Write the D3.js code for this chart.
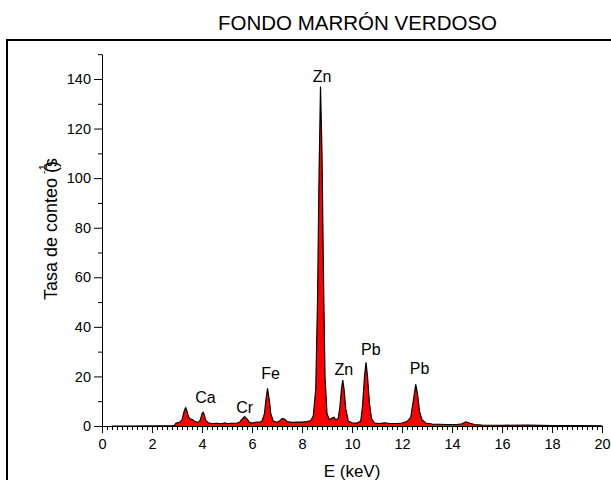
<!DOCTYPE html>
<html>
<head>
<meta charset="utf-8">
<script src="https://cdn.jsdelivr.net/npm/d3@7"></script>
<style>
  body { margin: 0; background: #fff; }
  text { font-family: 'Liberation Sans', Arial, sans-serif; fill: #000; }
</style>
</head>
<body>
<script>
// spectrum: energy (keV) and count rate (s^-1)
const energy = [0.4, 1.0, 2.0, 2.8, 2.9, 2.95, 3.0, 3.1, 3.2, 3.25, 3.3, 3.35, 3.4, 3.45, 3.5, 3.6, 3.7, 3.8, 3.9, 3.95,
  4.0, 4.05, 4.1, 4.15, 4.25, 4.4, 4.6, 4.8, 4.9, 5.0, 5.2, 5.4, 5.5, 5.6, 5.7, 5.8, 5.9, 6.0, 6.2, 6.3,
  6.4, 6.5, 6.55, 6.62, 6.7, 6.75, 6.85, 7.0, 7.1, 7.2, 7.3, 7.4, 7.6, 7.8, 8.0, 8.2, 8.35, 8.45, 8.55, 8.62,
  8.68, 8.74, 8.8, 8.86, 8.92, 9.0, 9.1, 9.2, 9.28, 9.35, 9.45, 9.52, 9.58, 9.63, 9.68, 9.75, 9.85, 10.0, 10.2, 10.35,
  10.42, 10.5, 10.56, 10.62, 10.7, 10.78, 10.9, 11.1, 11.3, 11.5, 11.8, 12.0, 12.2, 12.35, 12.45, 12.55, 12.62, 12.7, 12.8, 12.95,
  13.2, 13.5, 13.8, 14.2, 14.4, 14.55, 14.7, 14.9, 15.2, 16.0, 17.0, 18.0, 19.0, 20.0]
const counts = [0, 0, 0.05, 0.1, 0.3, 1.0, 1.3, 1.5, 2.5, 4.5, 6.5, 7.4, 6.0, 4.0, 3.0, 2.6, 2.0, 1.5, 1.8, 3.0,
  5.0, 5.5, 4.2, 2.2, 1.3, 1.0, 1.1, 0.9, 1.3, 1.0, 1.1, 1.2, 1.5, 2.8, 3.8, 2.9, 1.5, 1.2, 1.6, 1.5,
  2.0, 5.0, 10.0, 15.2, 10.0, 5.0, 2.0, 1.5, 2.0, 3.0, 2.8, 1.8, 1.5, 1.6, 1.6, 1.8, 2.2, 4, 15, 50,
  100, 137, 110, 60, 20, 5, 2.5, 3.2, 3.5, 2.5, 3.0, 8, 15, 18.5, 15, 7, 2, 1.3, 1.2, 2.0,
  8, 20, 25.7, 20, 9, 3, 1.2, 1.0, 1.3, 1.0, 1.0, 1.2, 1.8, 3.5, 10, 16.8, 13, 6, 2.5, 1.2,
  0.8, 0.7, 0.6, 0.6, 0.9, 1.7, 1.2, 0.6, 0.4, 0.3, 0.35, 0.2, 0.2, 0.1]

// peak labels: text, energy and height (data units) of the text baseline
const peakNames = ['Ca', 'Cr', 'Fe', 'Zn', 'Zn', 'Pb', 'Pb']
const peakE = [4.14, 5.71, 6.74, 8.8, 9.67, 10.75, 12.7]
const peakY = [9.3, 5.2, 19, 138.8, 20.6, 28.6, 21]

const xMajor = [0, 2, 4, 6, 8, 10, 12, 14, 16, 18, 20]
const yMajor = [0, 20, 40, 60, 80, 100, 120, 140]
const yMinor = [10, 30, 50, 70, 90, 110, 130, 150]

const data = energy.map((e, i) => ({ e: e, c: counts[i] }))

const svg = d3.select('body').append('svg')
  .attr('width', 611)
  .attr('height', 480)

// outer frame, runs off the right and bottom edges
svg.append('rect')
  .attr('x', 7)
  .attr('y', 40)
  .attr('width', 620)
  .attr('height', 460)
  .style('fill', 'none')
  .style('stroke', '#000')
  .style('stroke-width', 2)

const x = d3.scaleLinear().domain([0, 20]).range([102, 602])
const y = d3.scaleLinear().domain([0, 150]).range([426, 54.2])

const area = d3.area()
  .x(d => x(d.e))
  .y0(y(0))
  .y1(d => y(d.c))

const line = d3.line()
  .x(d => x(d.e))
  .y(d => y(d.c))

svg.append('path')
  .datum(data)
  .attr('d', area)
  .style('fill', '#ff0000')

svg.append('path')
  .datum(data)
  .attr('d', line)
  .style('fill', 'none')
  .style('stroke', '#000')
  .style('stroke-width', 1.2)

// x axis: majors plus 0.2 keV minors
const xMinor = d3.range(0, 101).map(i => i / 5).filter(v => Math.abs(v / 2 - Math.round(v / 2)) > 1e-6)
svg.append('g')
  .attr('transform', `translate(0, ${y(0)})`)
  .call(d3.axisBottom(x).tickValues(xMinor).tickFormat('').tickSize(4).tickSizeOuter(0))
svg.append('g')
  .attr('class', 'x axis')
  .attr('transform', `translate(0, ${y(0)})`)
  .call(d3.axisBottom(x).tickValues(xMajor).tickSize(7).tickSizeOuter(0).tickPadding(6))

svg.append('g')
  .attr('transform', `translate(${x(0)}, 0)`)
  .call(d3.axisLeft(y).tickValues(yMinor).tickFormat('').tickSize(4).tickSizeOuter(0))
svg.append('g')
  .attr('class', 'y axis')
  .attr('transform', `translate(${x(0)}, 0)`)
  .call(d3.axisLeft(y).tickValues(yMajor).tickSize(8).tickSizeOuter(0).tickPadding(3))

svg.selectAll('.axis text')
  .style('font-size', '14.5px')
  .style('font-family', "'Liberation Sans', Arial, sans-serif")
svg.selectAll('.domain, .tick line').style('stroke', '#000')

svg.selectAll('.peak')
  .data(peakNames)
  .enter().append('text')
  .attr('class', 'peak')
  .attr('x', (d, i) => x(peakE[i]))
  .attr('y', (d, i) => y(peakY[i]))
  .style('text-anchor', 'middle')
  .style('font-size', '16px')
  .text(d => d)

svg.append('text')
  .attr('x', 357.5)
  .attr('y', 30)
  .style('text-anchor', 'middle')
  .style('font-size', '20.5px')
  .text('FONDO MARRÓN VERDOSO')

svg.append('text')
  .attr('x', x(10))
  .attr('y', 477)
  .style('text-anchor', 'middle')
  .style('font-size', '17px')
  .text('E (keV)')

const yLabel = svg.append('text')
  .attr('transform', 'translate(57, 300) rotate(-90)')
  .style('font-size', '18px')
yLabel.append('tspan').text('Tasa de conteo (s')
yLabel.append('tspan').attr('dx', -9).text(')')
yLabel.append('tspan').attr('dx', -13).attr('dy', -10).style('font-size', '11px').text('-1')
</script>
</body>
</html>
